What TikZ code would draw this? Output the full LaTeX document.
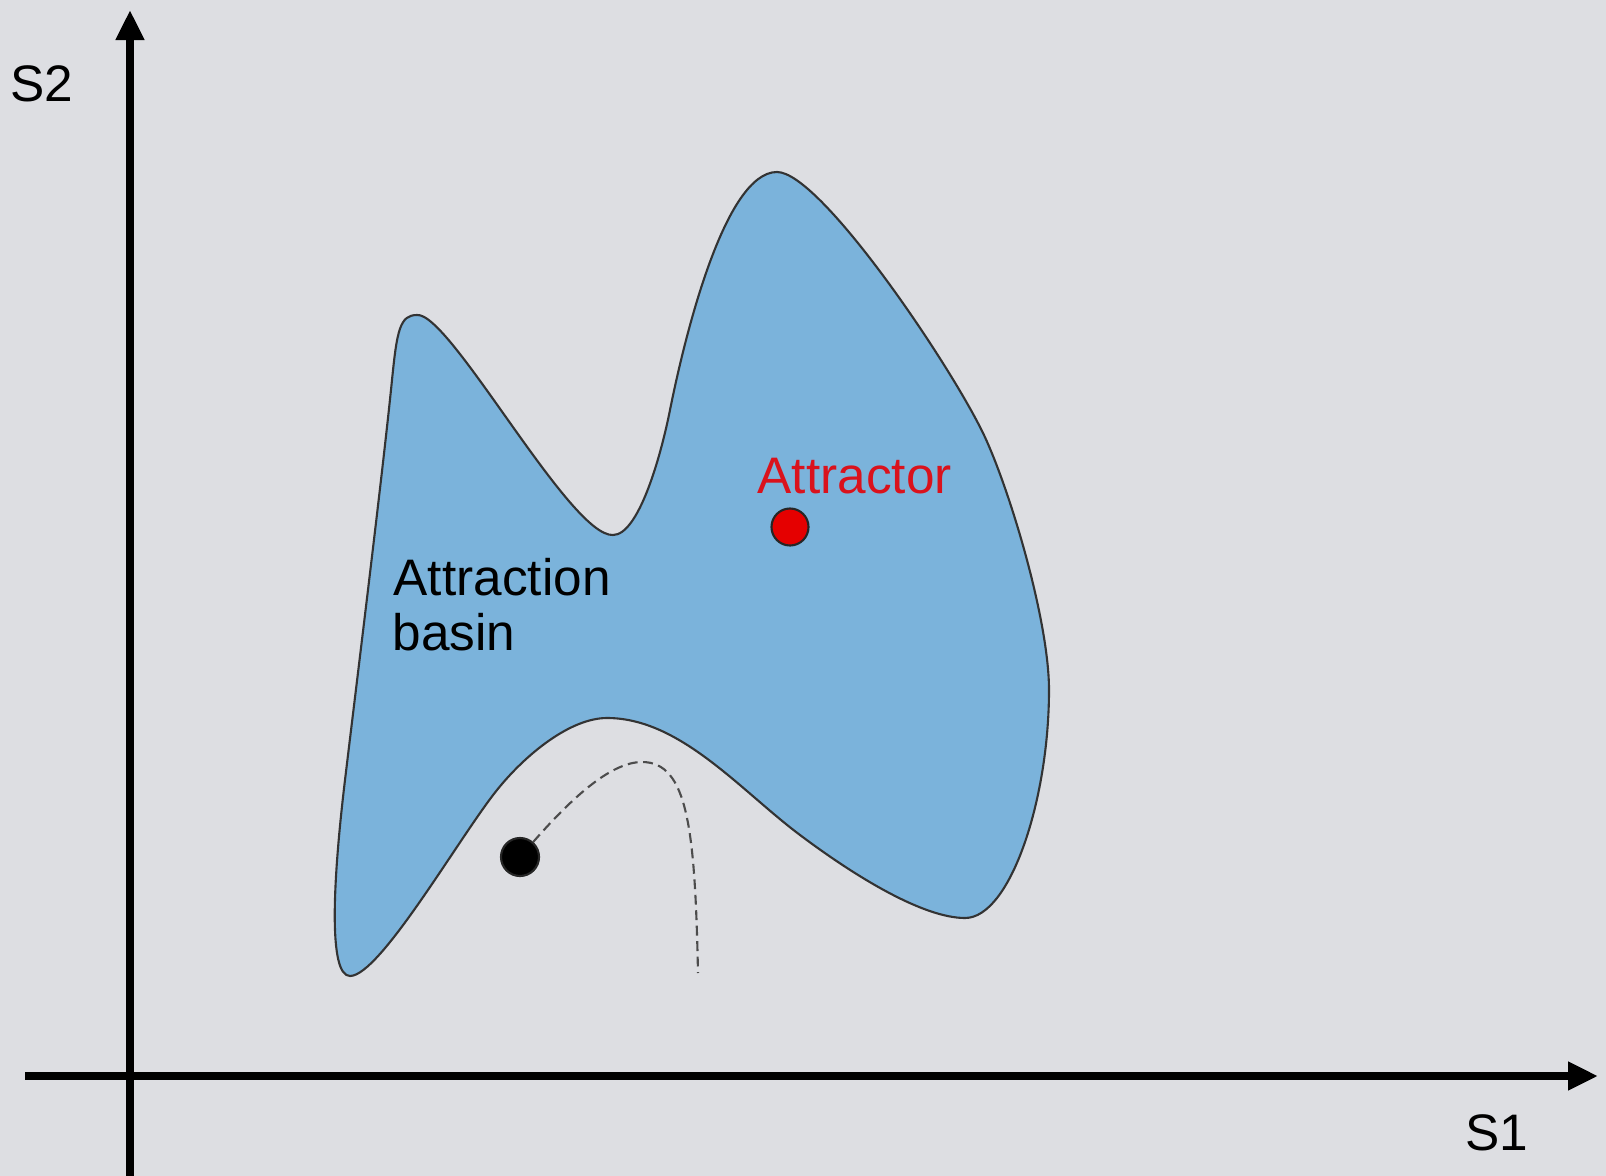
\documentclass[tikz,border=0pt]{standalone}
\usepackage{fontspec}
\setmainfont{Liberation Sans}
\usetikzlibrary{arrows.meta, positioning}
\definecolor{paper}{RGB}{221,222,226}
\definecolor{basinblue}{RGB}{123,179,219}
\definecolor{attrred}{RGB}{218,18,28}

\begin{document}
\begin{tikzpicture}[x=0.01cm, y=-0.01cm, font=\fontsize{14.6}{16.4}\selectfont,
  axis/.style={line width=2.3pt, -{Triangle[length=0.3cm, width=0.27cm]}},
  lbl/.style={inner sep=0, anchor=base west},
  dot/.style={circle, draw=black!85, line width=0.6pt, inner sep=0, minimum size=0.37cm},
  traj/.style={dash pattern=on 2.8pt off 1.6pt, line width=0.6pt, black!70}]

  \useasboundingbox (0,0) rectangle (1606,1176);
  \fill[paper] (0,0) rectangle (1606,1176);

  % Attraction basin
  \draw[fill=basinblue, draw=black!80, line width=0.6pt]
    (417,315) .. controls (450,312) and (570,537) .. (613,535)
    .. controls (638,535) and (660,460) .. (670,410)
    .. controls (685,335) and (725,172) .. (777,172)
    .. controls (820,172) and (948,361) .. (983,433)
    .. controls (1009,487) and (1049,620) .. (1049,690)
    .. controls (1049,800) and (1010,918) .. (965,918)
    .. controls (925,918) and (860,880) .. (800,835)
    .. controls (740,790) and (680,718) .. (607,718)
    .. controls (570,718) and (525,755) .. (497,790)
    .. controls (460,836) and (380,976) .. (350,976)
    .. controls (328,976) and (333,880) .. (345,780)
    .. controls (357,680) and (383,470) .. (392,380)
    .. controls (397,330) and (400,315) .. cycle;

  % Axes
  \coordinate (xstart) at (25,1076);
  \coordinate (xend) at (1598,1076);
  \coordinate (ystart) at (130,1176);
  \coordinate (yend) at (130,10);
  \draw[axis] (xstart) -- (xend);
  \draw[axis] (ystart) -- (yend);
  \node[lbl] (s1) at (1465,1150) {S1};
  \node[lbl] (s2) at (10,102) {S2};

  % Labels
  \node[lbl, attrred] (attrlabel) at (757,493) {Attractor};
  \node[lbl] (basinA) at (393,595) {Attraction};
  \node[lbl] (basinB) at (392,650) {basin};

  % Points and trajectory
  \node[dot, fill=red!90!black] (attractor) at (790,527) {};
  \node[dot, fill=black, minimum size=0.38cm] (ball) at (520,857) {};
  \coordinate (trajpeak) at (642,762);
  \coordinate (trajend) at (698,973);
  \draw[traj] (ball) .. controls (570,800) and (610,762) .. (trajpeak)
    .. controls (688,762) and (695,830) .. (trajend);
\end{tikzpicture}
\end{document}
